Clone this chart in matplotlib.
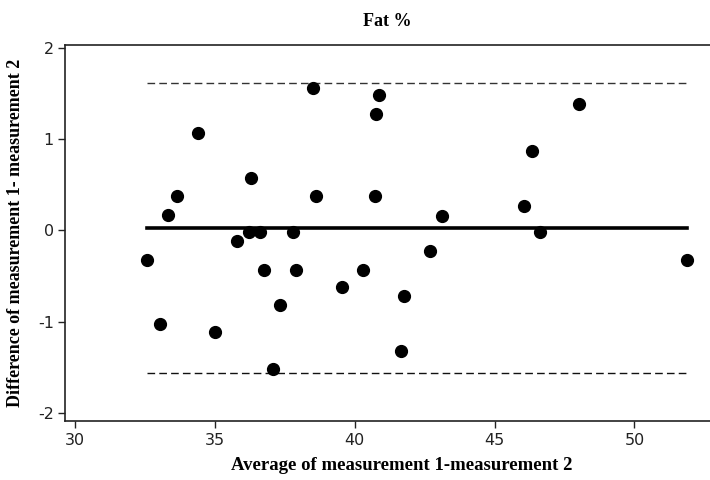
import matplotlib
matplotlib.use("Agg")
import matplotlib.pyplot as plt

plt.rcParams["axes.unicode_minus"] = False

# average of the two measurements and their difference, one pair per subject
avg = [32.58, 33.04, 33.33, 33.65, 34.40, 35.01, 35.80, 36.23, 36.30, 36.62,
       36.76, 37.08, 37.33, 37.80, 37.90, 38.52, 38.62, 39.55, 40.30, 40.73,
       40.77, 40.88, 41.66, 41.77, 42.70, 43.13, 46.06, 46.35, 46.64, 48.03,
       51.86]
diff = [-0.33, -1.03, 0.17, 0.38, 1.07, -1.11, -0.12, -0.02, 0.57, -0.02,
        -0.43, -1.52, -0.82, -0.02, -0.43, 1.56, 0.38, -0.62, -0.43, 0.38,
        1.27, 1.48, -1.32, -0.72, -0.23, 0.16, 0.27, 0.87, -0.02, 1.38,
        -0.33]

mean_diff = 0.02
lower_loa, upper_loa = -1.56, 1.61

xticks = [30, 35, 40, 45, 50]
yticks = [-2, -1, 0, 1, 2]

serif = ["Liberation Serif", "DejaVu Serif"]

fig = plt.figure(figsize=(7.1, 4.8), dpi=100)
ax = fig.add_axes([0.0915, 0.123, 0.9085, 0.783])

x0, x1 = min(avg), max(avg)
ax.plot([x0, x1], [mean_diff, mean_diff], color="black", lw=2.6, zorder=2)
ax.plot([x0, x1], [upper_loa, upper_loa], color="#333333", lw=1.0,
        dashes=(5.5, 3), zorder=2)
ax.plot([x0, x1], [lower_loa, lower_loa], color="#111111", lw=1.0,
        dashes=(5.5, 3), zorder=2)
ax.plot(avg, diff, "o", color="black", markersize=8.5, zorder=3)

ax.set_xlim(29.64, 52.7)
ax.set_ylim(-2.09, 2.03)
ax.set_xticks(xticks)
ax.set_yticks(yticks)
ax.tick_params(direction="out", length=5, width=1, labelsize=11.5,
               colors="#222222")
ax.tick_params(axis="x", pad=4)
ax.tick_params(axis="y", pad=3)

for side in ["left", "bottom", "top"]:
    ax.spines[side].set_linewidth(1.2)
    ax.spines[side].set_color("#222222")
ax.spines["right"].set_visible(False)

ax.set_title("Fat %", fontfamily=serif, fontweight="bold", fontsize=13,
             pad=14)
ax.set_xlabel("Average of measurement 1-measurement 2", fontfamily=serif,
              fontweight="bold", fontsize=13.5)
ax.xaxis.set_label_coords(0.522, -0.097)
ax.set_ylabel("Difference of measurement 1- measurement 2", fontfamily=serif,
              fontweight="bold", fontsize=13, labelpad=10)

fig.savefig("out.png", dpi=100)
